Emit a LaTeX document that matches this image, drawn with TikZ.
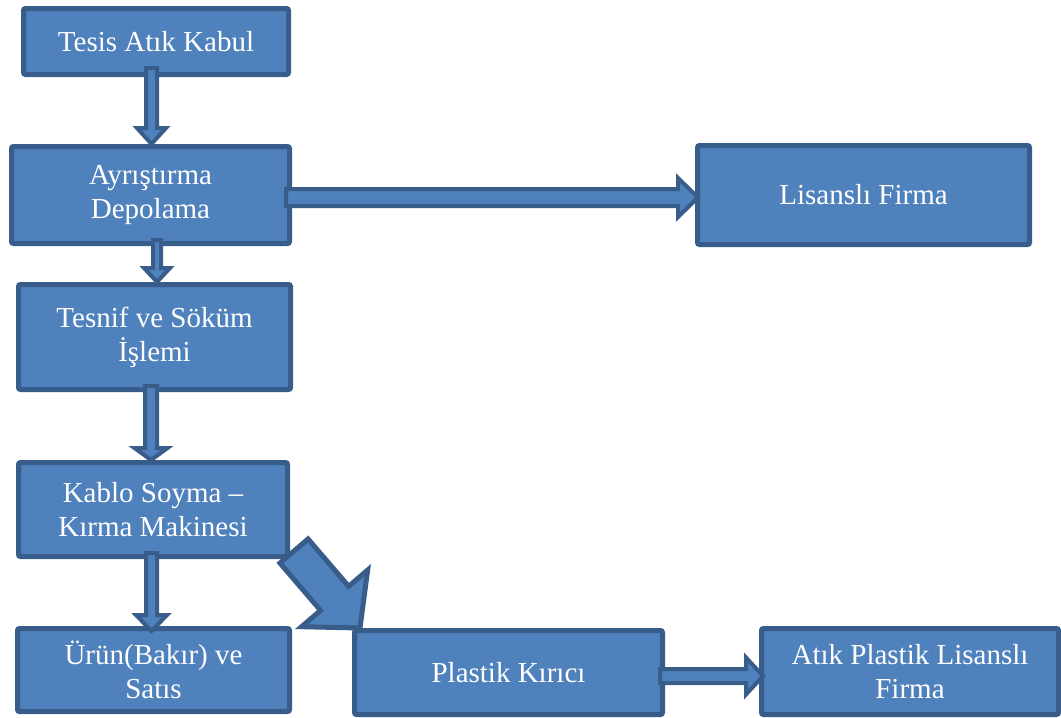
\documentclass[tikz,border=0pt]{standalone}
\usepackage{fontspec}
\setmainfont{Liberation Serif}
\usetikzlibrary{calc}

\definecolor{boxblue}{HTML}{4F81BD}
\definecolor{edgeblue}{HTML}{385D8A}

% block arrow from #2 to #3: shaft half width #4, head half width #5, head length #6
\newcommand{\blockarrow}[6][]{%
  \coordinate (ba-s) at (#2);
  \coordinate (ba-e) at (#3);
  \coordinate (ba-b) at ($(ba-e)!#6!(ba-s)$);
  \draw [blockarr, #1] ($(ba-s)!#4!90:(ba-e)$) -- ($(ba-b)!#4!90:(ba-e)$)
    -- ($(ba-b)!#5!90:(ba-e)$) -- (ba-e) -- ($(ba-b)!#5!-90:(ba-e)$)
    -- ($(ba-b)!#4!-90:(ba-e)$) -- ($(ba-s)!#4!-90:(ba-e)$) -- cycle;
}

\begin{document}
\begin{tikzpicture}[
    x=1pt,
    y=-1pt,
    block/.style={
        rectangle,
        draw=edgeblue,
        fill=boxblue,
        line width=5pt,
        rounded corners=2pt,
        text=white,
        align=center,
        inner sep=0pt,
        font=\fontsize{29}{34}\selectfont
    },
    blockarr/.style={
        draw=edgeblue,
        fill=boxblue,
        line width=4pt,
        line join=miter
    }
]
    \useasboundingbox (0,0) rectangle (1061,718);

    \node [block, minimum width=265pt, minimum height=66pt] (tesis) at (156,41.5) {Tesis Atık Kabul};
    \node [block, minimum width=278pt, minimum height=97pt] (ayristirma) at (150.5,195) {Ayrıştırma\\Depolama};
    \node [block, minimum width=332pt, minimum height=99pt] (lisansli) at (863.5,195) {Lisanslı Firma};
    \node [block, minimum width=272pt, minimum height=105pt] (tesnif) at (154.5,337) {Tesnif ve Söküm\\İşlemi};
    \node [block, minimum width=269pt, minimum height=94pt] (kablo) at (153,509.5) {Kablo Soyma --\\Kırma Makinesi};
    \node [block, minimum width=272pt, minimum height=83pt] (urun) at (153.5,670) {Ürün(Bakır) ve\\Satıs};
    \node [block, minimum width=308pt, minimum height=84pt] (plastik) at (508.5,672.5) {Plastik Kırıcı};
    \node [block, minimum width=297pt, minimum height=86pt] (atikfirma) at (910,671.5) {Atık Plastik Lisanslı\\Firma};

    \blockarrow{[xshift=-4.5pt,yshift=9pt]tesis.south}{[xshift=1pt]ayristirma.north}{5.5pt}{14.5pt}{16pt}
    \blockarrow{[xshift=6.5pt,yshift=6pt]ayristirma.south}{[xshift=2.5pt]tesnif.north}{4pt}{13pt}{14pt}
    \blockarrow{[xshift=-3.5pt,yshift=6pt]tesnif.south}{[xshift=-2pt]kablo.north}{6pt}{16.5pt}{12pt}
    \blockarrow{[xshift=-1.5pt,yshift=6pt]kablo.south}{[xshift=-2pt,yshift=-5pt]urun.north}{5.5pt}{15.5pt}{16pt}
    \blockarrow{[xshift=-6pt,yshift=-2.5pt]ayristirma.east}{[xshift=3pt,yshift=-2.5pt]lisansli.west}{8.5pt}{19.5pt}{20pt}
    \blockarrow{[xshift=-5pt,yshift=-3.5pt]plastik.east}{[xshift=4pt,yshift=-4.5pt]atikfirma.west}{7pt}{18.5pt}{17pt}
    \blockarrow[line width=5pt]{[shift={(4pt,8pt)}]kablo.south east}{[xshift=8pt]plastik.north west}{18.5pt}{43.5pt}{39pt}
\end{tikzpicture}
\end{document}
